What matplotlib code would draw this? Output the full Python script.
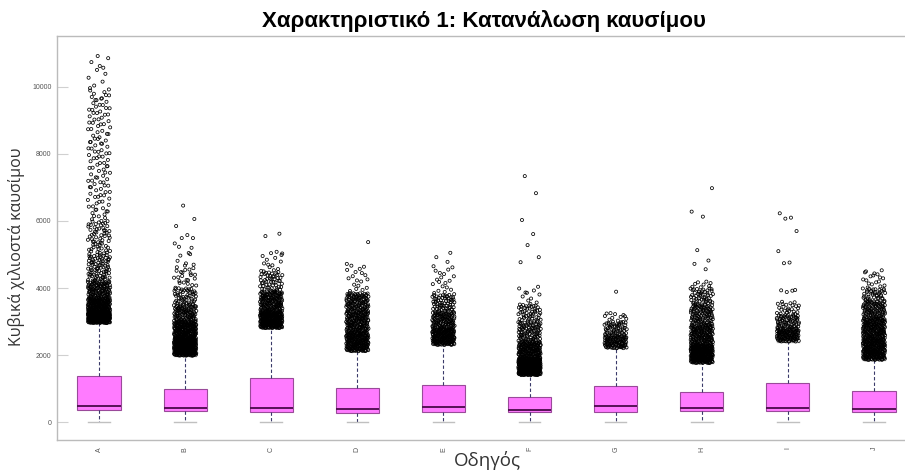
import numpy as np
import matplotlib
matplotlib.use("Agg")
import matplotlib.pyplot as plt

plt.rcParams['font.family'] = ['Liberation Sans', 'DejaVu Sans']

# Οδηγοί
drivers = ['A', 'B', 'C', 'D', 'E', 'F', 'G', 'H', 'I', 'J']

# στατιστικά κουτιών (ml)
q1 = [358, 337, 300, 280, 308, 300, 300, 330, 330, 308]
med = [477, 418, 408, 390, 438, 360, 480, 418, 408, 380]
q3 = [1380, 995, 1313, 1015, 1105, 755, 1075, 895, 1175, 915]
whis_lo = [0, 0, 0, 0, 0, 0, 0, 0, 0, 0]
whis_hi = [2950, 1975, 2800, 2110, 2300, 1400, 2200, 1760, 2400, 1850]

# ακραίες τιμές: ζώνες (από, έως, πλήθος) όπως διαβάζονται από την εικόνα
out_bands = {
    'A': [(2955, 3300, 250), (3300, 3700, 160), (3700, 4200, 110),
          (4200, 5000, 80), (5000, 6000, 60), (6000, 9900, 120),
          (9900, 10950, 12)],
    'B': [(1980, 2500, 300), (2500, 3000, 180), (3000, 3500, 100),
          (3500, 4000, 50), (4000, 4700, 25), (4700, 5400, 6)],
    'C': [(2800, 3300, 230), (3300, 3900, 150), (3900, 4500, 50),
          (4500, 5000, 12)],
    'D': [(2110, 2700, 200), (2700, 3300, 150), (3300, 3850, 110),
          (3850, 4700, 18)],
    'E': [(2300, 2800, 180), (2800, 3300, 110), (3300, 3800, 60),
          (3800, 4700, 20)],
    'F': [(1400, 1900, 350), (1900, 2400, 160), (2400, 3000, 90),
          (3000, 3500, 45), (3500, 4040, 12)],
    'G': [(2200, 2600, 100), (2600, 3000, 50), (3000, 3250, 10)],
    'H': [(1760, 2300, 250), (2300, 2900, 150), (2900, 3500, 100),
          (3500, 4000, 50), (4000, 4200, 8)],
    'I': [(2400, 2800, 110), (2800, 3200, 60), (3200, 3600, 25)],
    'J': [(1850, 2500, 230), (2500, 3100, 170), (3100, 3600, 90),
          (3600, 4000, 40), (4000, 4540, 18)],
}
# μεμονωμένες ψηλές τιμές
out_single = {
    'A': [],
    'B': [6460, 6060, 5850, 5580, 5490, 5490, 5230, 5010],
    'C': [5620, 5550, 5080, 5040, 5030],
    'D': [5370, 4720],
    'E': [5050, 4920, 4780],
    'F': [7340, 6830, 6030, 5610, 5280, 4920, 4770],
    'G': [3890, 3250],
    'H': [6980, 6280, 6130, 5130, 4820, 4720, 4560],
    'I': [6230, 6100, 6070, 5700, 5100, 4760, 4740, 3940, 3930, 3920, 3880],
    'J': [],
}


def halton(i, base):
    f, r = 1.0, 0.0
    while i > 0:
        f /= base
        r += f * (i % base)
        i //= base
    return r


def outlier_points(name):
    ys, us = [], []
    k = 1
    for lo, hi, n in out_bands[name]:
        for _ in range(n):
            ys.append(lo + (hi - lo) * halton(k, 3))
            us.append(halton(k, 2))
            k += 1
    for v in out_single[name]:
        ys.append(v)
        us.append(halton(k, 2))
        k += 1
    return np.array(us), np.array(ys)


fig = plt.figure(figsize=(9.05, 4.70), dpi=100)
ax = fig.add_axes([57 / 905, 1 - 440 / 470, 848 / 905, 404 / 470])

stats = []
for i, d in enumerate(drivers):
    stats.append(dict(label=d, med=med[i], q1=q1[i], q3=q3[i],
                      whislo=whis_lo[i], whishi=whis_hi[i], fliers=[]))

pos = np.arange(1, len(drivers) + 1)
ax.bxp(stats, positions=pos, widths=0.5, patch_artist=True,
       showfliers=False,
       boxprops=dict(facecolor='#ff7bff', edgecolor='#9a4a9a', linewidth=0.8),
       medianprops=dict(color='#4a0a4a', linewidth=1.3),
       whiskerprops=dict(color='#3a3a6a', linewidth=0.8, linestyle=(0, (3, 2))),
       capprops=dict(color='#c0c0c0', linewidth=1.0),
       capwidths=0.25)

for i, d in enumerate(drivers):
    u, y = outlier_points(d)
    x = pos[i] + (u - 0.5) * 0.26
    ax.scatter(x, y, s=5, facecolors='none', edgecolors='black',
               linewidths=0.55, zorder=5)

ax.set_xlim(0.512, 10.36)
ax.set_ylim(-537, 11522)
ax.set_yticks([0, 2000, 4000, 6000, 8000, 10000])
ax.set_xticks(pos)
ax.set_xticklabels(drivers, rotation=90)
ax.tick_params(axis='y', direction='in', length=8, color='#d0d0d0',
               labelsize=5, labelcolor='#555555', pad=4)
ax.tick_params(axis='x', length=0, labelsize=5, labelcolor='#555555', pad=5)

for s in ['left', 'bottom', 'top']:
    ax.spines[s].set_color('#bbbbbb')
    ax.spines[s].set_linewidth(1.0)
ax.spines['right'].set_visible(False)

ax.set_ylabel('Κυβικά χιλιοστά καυσίμου', fontsize=11.5, color='#333333',
              family=['Open Sans', 'DejaVu Sans'])
ax.yaxis.set_label_coords(-0.038, 0.478)
ax.set_xlabel('Οδηγός', fontsize=13.5, color='#333333',
              family=['Open Sans', 'DejaVu Sans'])
ax.xaxis.set_label_coords((487 - 57) / 848, -0.026)

fig.text(484 / 905, 1 - 21 / 470, 'Χαρακτηριστικό 1: Κατανάλωση καυσίμου',
         ha='center', va='center', fontsize=16, fontweight='bold')

fig.savefig('out.png', dpi=100)
